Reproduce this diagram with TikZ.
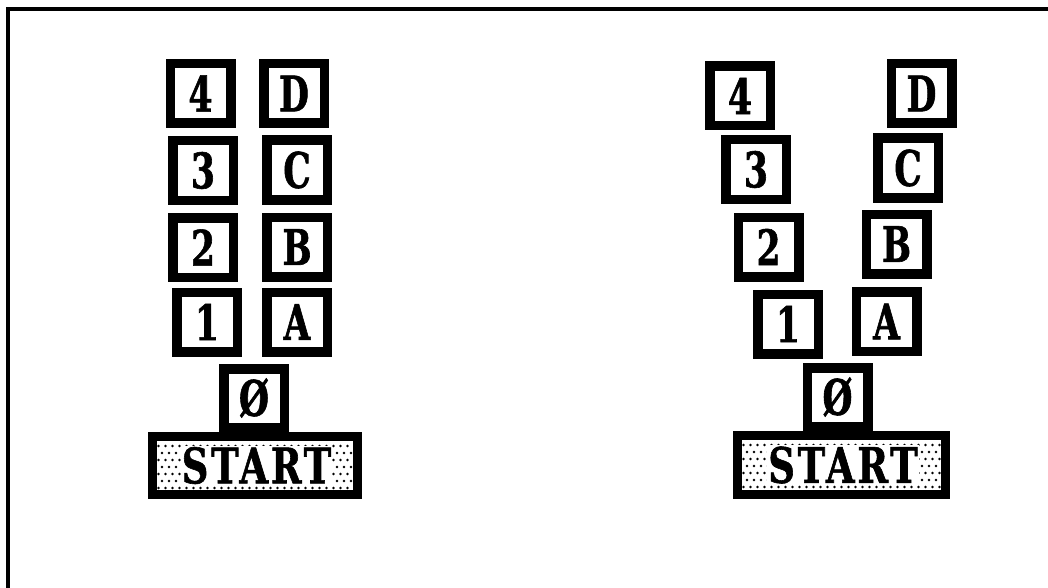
\documentclass[tikz,border=0pt]{standalone}
\usepackage{fontspec}
\newfontfamily\blockfont{DejaVu Serif}[FakeStretch=0.7,FakeBold=1.2]
\newfontfamily\startfont{DejaVu Serif}[FakeStretch=0.75,FakeBold=1.2,LetterSpace=6]
\begin{document}
\begin{tikzpicture}[x=1pt,y=-1pt,
  blockbox/.style={draw=black,line width=9.5pt,fill=white,inner sep=0pt,
    minimum width=60.5pt,minimum height=59.5pt,
    font=\blockfont\bfseries\fontsize{49}{49}\selectfont},
  startbox/.style={draw=black,line width=9pt,fill=white,inner sep=0pt,
    minimum width=#1,minimum height=58.5pt},
  starttext/.style={fill=white,inner sep=1pt,
    font=\startfont\bfseries\fontsize{49}{49}\selectfont},
  dotfill/.style={fill=black}]
\useasboundingbox (0,0) rectangle (1048,588);
\fill[white] (0,0) rectangle (1048,588);
% frame
\draw[line width=4pt] (8,588) -- (8,9) -- (1048,9);
% ---------- left group ----------
\node[blockbox] (L4) at (200.5,93.5) {4};
\node[blockbox] (LD) at (294,93.5) {D};
\node[blockbox] (L3) at (203,170.5) {3};
\node[blockbox] (LC) at (297,170) {C};
\node[blockbox] (L2) at (203,247.5) {2};
\node[blockbox] (LB) at (297,247) {B};
\node[blockbox] (L1) at (207,322) {1};
\node[blockbox] (LA) at (297,322) {A};
\node[blockbox,minimum height=58.5pt] (L0) at (254,398) {Ø};
\node[startbox=205pt] (LS) at (255,465.5) {};
\begin{scope}
  \clip (LS.south west) ++(4.5,-4.5) rectangle ([xshift=-4.5pt,yshift=4.5pt]LS.north east);
  \foreach \i in {0,...,31} \foreach \j in {0,...,7}
    \fill[dotfill] ({148+\i*7+mod(\j,2)*3.5},{439+\j*7}) circle (1.4);
\end{scope}
\node[starttext] (LSt) at ([xshift=1.5pt]LS.center) {START};
% ---------- right group ----------
\node[blockbox] (R4) at (740,96) {4};
\node[blockbox] (RD) at (921.5,93.5) {D};
\node[blockbox] (R3) at (756,169.5) {3};
\node[blockbox] (RC) at (908,168) {C};
\node[blockbox] (R2) at (768.5,247) {2};
\node[blockbox] (RB) at (896.5,244) {B};
\node[blockbox] (R1) at (788,324) {1};
\node[blockbox] (RA) at (886.5,321.5) {A};
\node[blockbox,minimum height=58.5pt] (R0) at (837.5,397) {Ø};
\node[startbox=208pt] (RS) at (841.5,465) {};
\begin{scope}
  \clip (RS.south west) ++(4.5,-4.5) rectangle ([xshift=-4.5pt,yshift=4.5pt]RS.north east);
  \foreach \i in {0,...,32} \foreach \j in {0,...,7}
    \fill[dotfill] ({733+\i*7+mod(\j,2)*3.5},{438+\j*7}) circle (1.4);
\end{scope}
\node[starttext] (RSt) at ([xshift=1.5pt]RS.center) {START};
\end{tikzpicture}
\end{document}
